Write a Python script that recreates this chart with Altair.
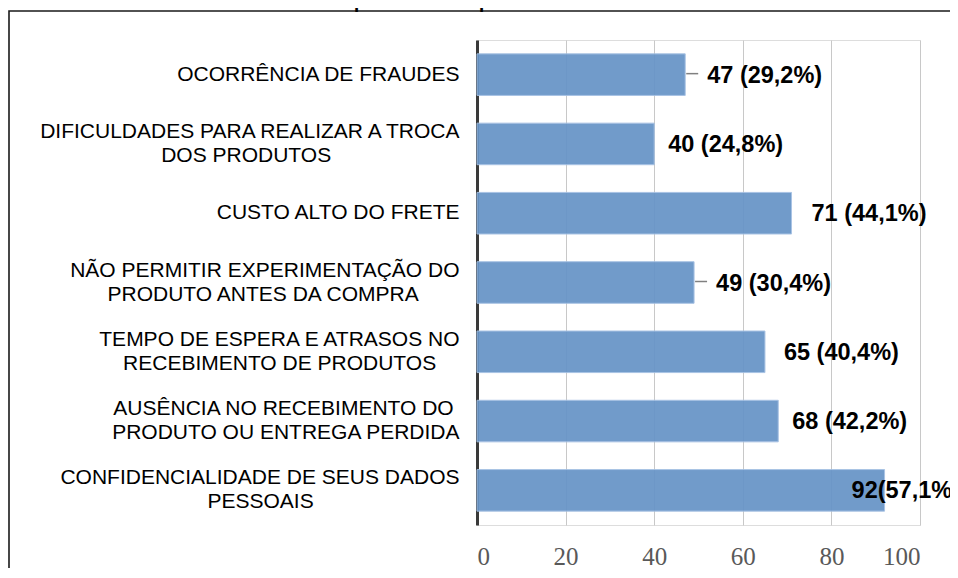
import altair as alt
import pandas as pd

NB = "\u00a0"
ZW = "\u200b"  # keeps trailing no-break spaces from being trimmed

# ---- data ----
categories = [
    "OCORRÊNCIA DE FRAUDES",
    "DIFICULDADES PARA REALIZAR A TROCA|DOS PRODUTOS",
    "CUSTO ALTO DO FRETE",
    "NÃO PERMITIR EXPERIMENTAÇÃO DO|PRODUTO ANTES DA COMPRA",
    "TEMPO DE ESPERA E ATRASOS NO|RECEBIMENTO DE PRODUTOS",
    "AUSÊNCIA NO RECEBIMENTO DO|PRODUTO OU ENTREGA PERDIDA",
    "CONFIDENCIALIDADE DE SEUS DADOS|PESSOAIS",
]
counts = [47, 40, 71, 49, 65, 68, 92]
value_labels = ["47 (29,2%)", "40 (24,8%)", "71 (44,1%)", "49 (30,4%)",
                "65 (40,4%)", "68 (42,2%)", "92(57,1%)"]
x_ticks = [0, 20, 40, 60, 80, 100]
title_main = "produtos pela"
title_italic = "internet"

# ---- layout helpers (label centring pads, label gaps in px, leader lines) ----
pad_line1 = [0, 0, 0, 0, 0, 1, 0]
pad_line2 = [0, 22, 0, 7, 4, 0, 25]
label_gap = [22, 14, 20, 22, 19, 14, -33]
leader = [True, False, False, True, False, False, False]

PLOT_W = 443
PLOT_H = 485


def centred(label, p1, p2):
    parts = label.split("|")
    if p1:
        parts[0] = parts[0] + NB * p1 + ZW
    if len(parts) > 1 and p2:
        parts[1] = parts[1] + NB * p2 + ZW
    return "|".join(parts)


cats = [centred(c, a, b) for c, a, b in zip(categories, pad_line1, pad_line2)]

df = pd.DataFrame({
    "cat": cats,
    "count": counts,
    "label": value_labels,
    "gap": label_gap,
    "leader": leader,
})

FONT = "Liberation Sans"

y_enc = alt.Y(
    "cat:N",
    sort=cats,
    scale=alt.Scale(paddingInner=0.4, paddingOuter=0.2),
    axis=alt.Axis(
        title=None,
        labelExpr="split(datum.label, '|')",
        labelFont=FONT,
        labelFontSize=21,
        labelColor="#000000",
        labelLineHeight=24,
        labelAlign="right",
        labelBaseline="middle",
        labelOffset={"condition": {"test": "indexof(datum.label, '|') >= 0", "value": -12}, "value": 0},
        labelPadding=18,
        labelLimit=600,
        ticks=False,
        domain=True,
        domainColor="#3a3a3a",
        domainWidth=3,
        grid=False,
    ),
)

x_enc = alt.X(
    "count:Q",
    scale=alt.Scale(domain=[0, 100], nice=False),
    axis=alt.Axis(
        title=None,
        values=x_ticks,
        labelFont="Liberation Serif",
        labelFontSize=25,
        labelColor="#595959",
        labelPadding=19,
        ticks=False,
        domain=False,
        grid=True,
        gridColor="#c8c8c8",
        gridWidth=1,
    ),
)

base = alt.Chart(df)

bars = base.mark_bar(
    color="#6794c7", stroke="#a3bfe2", strokeWidth=1, opacity=0.93
).encode(x=x_enc, y=y_enc)

labels = base.transform_calculate(
    lx=f"datum.count + datum.gap * 100 / {PLOT_W}"
).mark_text(
    align="left", baseline="middle", dy=1,
    font=FONT, fontSize=23.5, fontWeight="bold", color="#000000",
).encode(
    x="lx:Q",
    y=alt.Y("cat:N", sort=cats),
    text="label:N",
)

leaders = base.transform_filter("datum.leader").mark_rule(
    color="#808080", strokeWidth=1.5, xOffset=1, x2Offset=13, yOffset=-1
).encode(
    x="count:Q",
    x2="count:Q",
    y=alt.Y("cat:N", sort=cats),
)

one = pd.DataFrame({"k": [0]})
frame = alt.Chart(one).mark_rect(
    fill=None, stroke="#1a1a1a", strokeWidth=1.6
).encode(
    x=alt.value(-468), x2=alt.value(700),
    y=alt.value(-29), y2=alt.value(700),
)

title1 = alt.Chart(one).mark_text(
    align="right", baseline="alphabetic", font=FONT, fontSize=30, color="#000000"
).encode(x=alt.value(58), y=alt.value(-34), text=alt.value(title_main))
title2 = alt.Chart(one).mark_text(
    align="left", baseline="alphabetic", font=FONT, fontSize=30,
    fontStyle="italic", color="#000000"
).encode(x=alt.value(66), y=alt.value(-34), text=alt.value(title_italic))

chart = alt.layer(frame, bars, leaders, labels, title1, title2).properties(
    width=PLOT_W,
    height=PLOT_H,
    padding={"left": 469, "top": 32, "right": 30, "bottom": 43},
    autosize=alt.AutoSizeParams(type="none"),
).configure_view(stroke=None).configure(background="white")

chart.save("out.html", embed_options={"renderer": "svg", "actions": False})
